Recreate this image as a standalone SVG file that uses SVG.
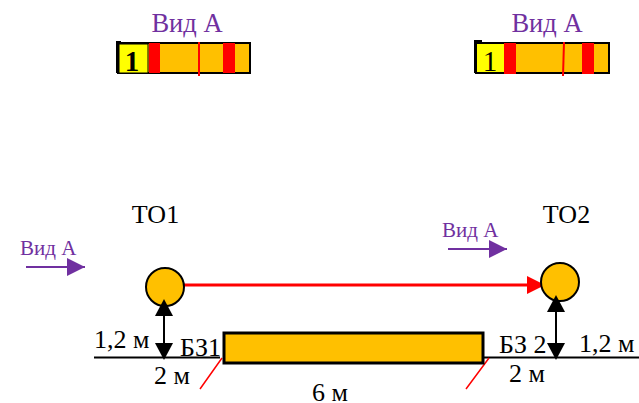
<svg xmlns="http://www.w3.org/2000/svg" width="639" height="403" viewBox="0 0 639 403">
<style>
text{font-family:"Liberation Serif","Times New Roman",serif;fill:#000}
.v{fill:#7030a0}
.big{font-size:26.500px}
.mid{font-size:26px}
.sm{font-size:21px}
.bar{fill:#ffc000;stroke:#000;stroke-width:2}
.red{fill:#ff0000}
.k{stroke:#000;stroke-width:2;fill:none}
.r{stroke:#ff0000;fill:none}
.p{stroke:#7030a0;stroke-width:2;fill:none}
.node{fill:#ffc000;stroke:#000;stroke-width:2}
</style>
<defs>
<marker id="ah-p" markerUnits="userSpaceOnUse" markerWidth="18" markerHeight="18" refX="18" refY="9" orient="auto"><path d="M0 0L18 9L0 18Z" fill="#7030a0"/></marker>
<marker id="ah-r" markerUnits="userSpaceOnUse" markerWidth="18" markerHeight="18" refX="18" refY="9" orient="auto"><path d="M0 0L18 9L0 18Z" fill="#ff0000"/></marker>
</defs>
<g id="view-left">
<text class="v big" x="187" y="32" text-anchor="middle">Вид А</text>
<rect class="bar" x="118" y="43" width="132" height="30"/>
<rect x="119" y="44" width="29" height="29" fill="#ffff00" stroke="#000" stroke-width="1"/>
<path d="M117 73V42H121" class="k"/>
<rect class="red" x="149" y="43" width="11" height="30"/>
<rect class="red" x="223" y="43" width="12" height="30"/>
<path class="r" stroke-width="2" d="M199 42V76"/>
<text x="132" y="71" text-anchor="middle" font-size="29" font-weight="bold">1</text>
</g>
<g id="view-right">
<text class="v big" x="547" y="32" text-anchor="middle">Вид А</text>
<rect class="bar" x="476" y="43" width="133" height="30"/>
<rect x="477" y="44" width="27" height="28" fill="#ffff00"/>
<path d="M475 73V41H482" class="k"/>
<rect class="red" x="504" y="43" width="12" height="31"/>
<rect class="red" x="582" y="43" width="12" height="31"/>
<path class="r" stroke-width="2" d="M564 42L563 76"/>
<text x="490" y="71" text-anchor="middle" font-size="29">1</text>
</g>
<g id="connectors">
<path class="k" d="M94 357.500H220M484 357.500H639"/>
<path class="p" d="M26 267H85" marker-end="url(#ah-p)"/>
<path class="p" d="M448 249H507" marker-end="url(#ah-p)"/>
<path class="r" stroke-width="3" d="M184 285H545" marker-end="url(#ah-r)"/>
<path class="r" stroke-width="1.500" d="M222 358L200 389M489 358L466 389"/>
</g>
<g id="to1">
<circle class="node" cx="165" cy="287" r="19"/>
<text class="mid" x="155.500" y="223" text-anchor="middle">ТО1</text>
<path class="k" d="M164 316V344"/>
<path d="M155 316L164 299L173 316Z" fill="#000"/>
<path d="M155 343H173L164 360Z" fill="#000"/>
</g>
<g id="to2">
<circle class="node" cx="560" cy="282" r="19"/>
<text class="mid" x="566.500" y="223" text-anchor="middle">ТО2</text>
<path class="k" d="M556 312V344"/>
<path d="M547 312L556 295L565 312Z" fill="#000"/>
<path d="M547 343H565L556 360Z" fill="#000"/>
</g>
<g id="bz-span">
<rect class="bar" style="stroke-width:3" x="224" y="333" width="259" height="30"/>
</g>
<g id="labels">
<text class="mid" x="94" y="348">1,2 м</text>
<text class="mid" x="180" y="356">БЗ1</text>
<text class="mid" x="154" y="384">2 м</text>
<text class="mid" x="499" y="353">БЗ 2</text>
<text class="mid" x="579" y="352">1,2 м</text>
<text class="mid" x="509" y="382">2 м</text>
<text class="mid" x="312" y="401">6 м</text>
<text class="v sm" x="20" y="255">Вид А</text>
<text class="v sm" x="442" y="237">Вид А</text>
</g>
</svg>
